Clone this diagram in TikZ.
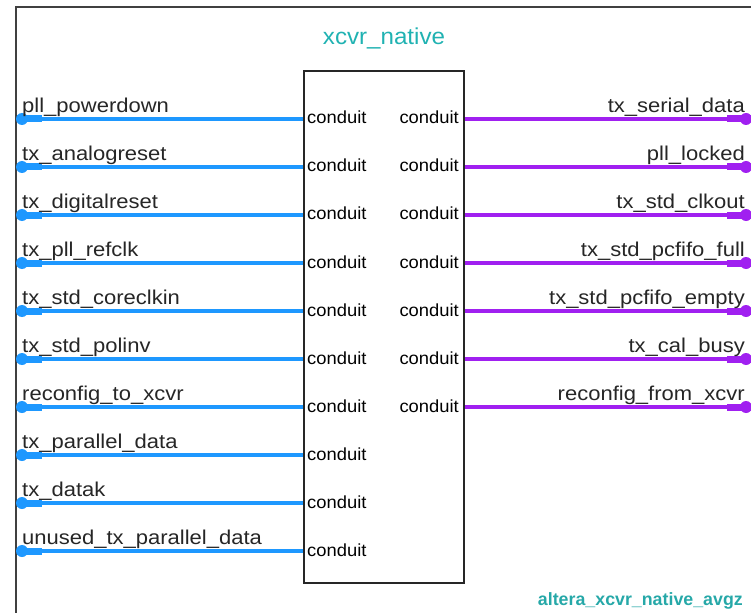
\documentclass[tikz,border=0pt]{standalone}
\usepackage{fontspec}
\usetikzlibrary{calc}
\setmainfont{Liberation Sans}
\newfontfamily\labfont[FakeStretch=1.1]{Liberation Sans}
\newfontfamily\portfont[FakeStretch=1.05]{Liberation Sans}
\newfontfamily\titlefont[FakeStretch=1.05]{Liberation Sans}
\newfontfamily\kindfont{Liberation Sans}

\definecolor{wireblue}{RGB}{30,152,255}
\definecolor{wirepurple}{RGB}{160,32,240}
\definecolor{titleteal}{RGB}{32,178,178}
\definecolor{kindteal}{RGB}{38,168,168}
\definecolor{framegray}{RGB}{64,64,64}

\tikzset{
  signame/.style={inner sep=0pt, text=black!85,
    font={\labfont\fontsize{20bp}{24bp}\selectfont}},
  portname/.style={inner sep=0pt, text=black,
    font={\portfont\fontsize{17.5bp}{21bp}\selectfont}},
  inwire/.style={draw=wireblue, line width=4.5bp},
  outwire/.style={draw=wirepurple, line width=4.5bp},
  corebox/.style={draw=black!85, line width=1.8bp,
    minimum width=160bp, minimum height=512bp, inner sep=0pt}
}

\begin{document}
\begin{tikzpicture}[x=1bp,y=-1bp]
  \useasboundingbox (0,0) rectangle (751,613);

  % enclosing system frame (runs off the right and bottom edges)
  \draw[framegray, line width=2bp] (15.5,613) -- (15.5,7) -- (751,7);

  % instance name and component type
  \node[anchor=base, inner sep=0pt, text=titleteal,
        font={\titlefont\fontsize{23bp}{27bp}\selectfont}] (title) at (384,45) {xcvr\_native};
  \node[anchor=base east, inner sep=0pt, text=kindteal,
        font={\kindfont\bfseries\fontsize{17.8bp}{21bp}\selectfont}] (kind) at (743,605) {altera\_xcvr\_native\_avgz};

  % input conduits (left side)
  \foreach \sig [count=\i] in {pll\_powerdown, tx\_analogreset, tx\_digitalreset,
      tx\_pll\_refclk, tx\_std\_coreclkin, tx\_std\_polinv, reconfig\_to\_xcvr,
      tx\_parallel\_data, tx\_datak, unused\_tx\_parallel\_data} {
    \pgfmathsetmacro\yy{119+48*(\i-1)}
    \coordinate (lpin\i) at (17,\yy);
    \coordinate (ledge\i) at (304,\yy);
    \draw[inwire] (lpin\i) -- (ledge\i);
    \draw[wireblue, line width=7bp] (lpin\i) -- ++(25,0);
    \fill[wireblue] ($(lpin\i)+(5,0)$) circle (6bp);
    \node[signame, anchor=base west] (lname\i) at (22,\yy-6.5) {\sig};
    \node[portname, anchor=base west] (lport\i) at (307,\yy+5) {conduit};
  }

  % output conduits (right side)
  \foreach \sig [count=\i] in {tx\_serial\_data, pll\_locked, tx\_std\_clkout,
      tx\_std\_pcfifo\_full, tx\_std\_pcfifo\_empty, tx\_cal\_busy,
      reconfig\_from\_xcvr} {
    \pgfmathsetmacro\yy{119+48*(\i-1)}
    \coordinate (redge\i) at (464,\yy);
    \coordinate (rpin\i) at (751,\yy);
    \draw[outwire] (redge\i) -- (rpin\i);
    \draw[wirepurple, line width=7bp] (rpin\i) -- ++(-24,0);
    \fill[wirepurple] ($(rpin\i)+(-5,0)$) circle (6bp);
    \node[signame, anchor=base east] (rname\i) at (745,\yy-6.5) {\sig};
    \node[portname, anchor=base east] (rport\i) at (459,\yy+5) {conduit};
  }

  % module body, drawn over the wire ends
  \node[corebox] (core) at (384,327) {};
\end{tikzpicture}
\end{document}
